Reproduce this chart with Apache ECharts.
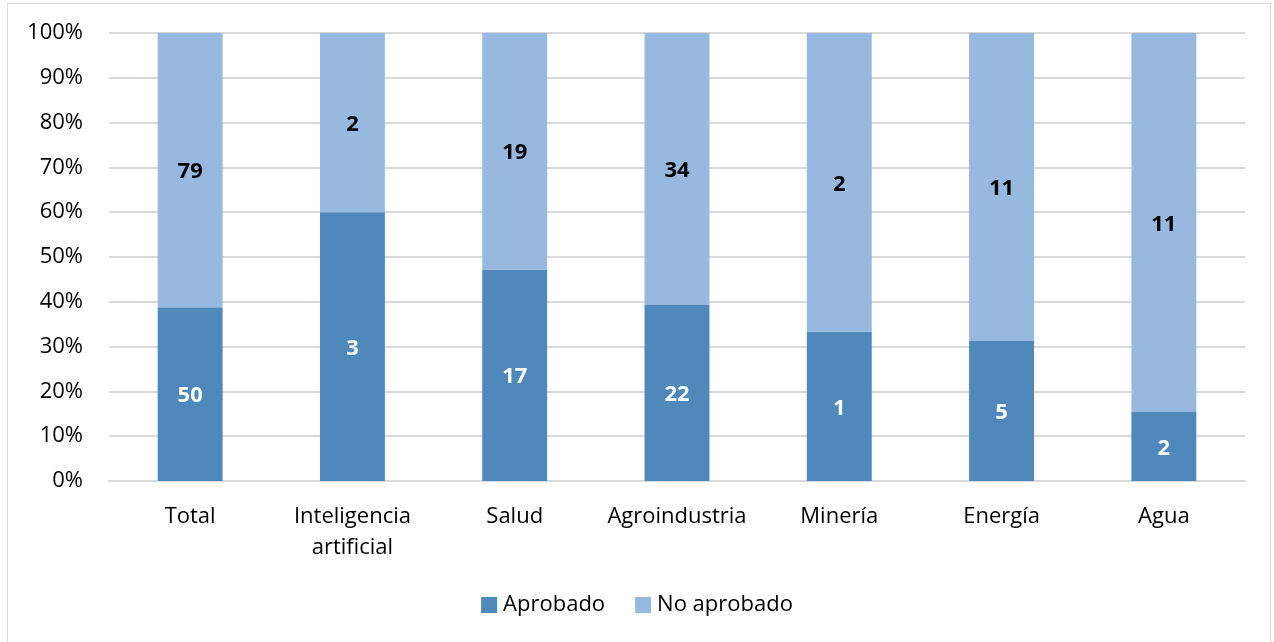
<!DOCTYPE html>
<html>
<head>
<meta charset="utf-8">
<script src="https://cdn.jsdelivr.net/npm/echarts@6/dist/echarts.min.js"></script>
<style>
html, body { margin: 0; padding: 0; background: #fff; }
#chart { width: 1274px; height: 642px; }
#frame { position: absolute; left: 7px; top: 3px; width: 1264px; height: 650px; border: 1px solid #d9d9d9; box-sizing: border-box; }
</style>
</head>
<body>
<div id="frame"></div>
<div id="chart"></div>
<script>
var categories = ["Total", "Inteligencia\nartificial", "Salud", "Agroindustria", "Minería", "Energía", "Agua"];
var aprobado = [50, 3, 17, 22, 1, 5, 2];
var noAprobado = [79, 2, 19, 34, 2, 11, 11];
var yTicks = ["0%", "10%", "20%", "30%", "40%", "50%", "60%", "70%", "80%", "90%", "100%"];

var darkColor = "#4F88BB";
var lightColor = "#97B9E0";
var font = "'Open Sans', sans-serif";
var fs = 22;

// 100% stacked: share of each category total
function share(arr, i) {
    return arr[i] / (aprobado[i] + noAprobado[i]) * 100;
}
var aprobadoPct = [];
var noAprobadoPct = [];
for (var i = 0; i < categories.length; i++) {
    aprobadoPct.push({ value: share(aprobado, i), count: aprobado[i] });
    noAprobadoPct.push({ value: share(noAprobado, i), count: noAprobado[i] });
}

var chart = echarts.init(document.getElementById("chart"));
var option = {
    animation: false,
    backgroundColor: "transparent",
    textStyle: { fontFamily: font },
    grid: { left: 109, right: 29, top: 33, bottom: 161, containLabel: false },
    legend: {
        bottom: 21,
        left: "center",
        itemWidth: 16,
        itemHeight: 16,
        itemGap: 30,
        icon: "rect",
        textStyle: { fontSize: fs, color: "#000", fontFamily: font, padding: [0, 0, 0, 1] },
        data: ["Aprobado", "No aprobado"]
    },
    xAxis: {
        type: "category",
        data: categories,
        axisLine: { lineStyle: { color: "#d9d9d9", width: 2 } },
        axisTick: { show: false },
        axisLabel: { interval: 0, color: "#000", fontSize: fs, margin: 20, lineHeight: 31, fontFamily: font }
    },
    yAxis: {
        type: "value",
        min: 0,
        max: 100,
        interval: 10,
        axisLine: { show: false },
        axisTick: { show: false },
        splitLine: { lineStyle: { color: "#d9d9d9", width: 2 } },
        axisLabel: {
            color: "#000",
            fontSize: fs,
            margin: 26,
            fontFamily: font,
            formatter: function (v) { return yTicks[Math.round(v / 10)]; }
        }
    },
    series: [
        {
            name: "Aprobado",
            type: "bar",
            stack: "total",
            barWidth: "40%",
            data: aprobadoPct,
            itemStyle: { color: darkColor },
            label: {
                show: true,
                position: "inside",
                offset: [0, 2],
                color: "#fff",
                fontWeight: "bold",
                fontSize: fs,
                fontFamily: font,
                formatter: function (p) { return p.data.count; }
            }
        },
        {
            name: "No aprobado",
            type: "bar",
            stack: "total",
            barWidth: "40%",
            data: noAprobadoPct,
            itemStyle: { color: lightColor },
            label: {
                show: true,
                position: "inside",
                offset: [0, 2],
                color: "#000",
                fontWeight: "bold",
                fontSize: fs,
                fontFamily: font,
                formatter: function (p) { return p.data.count; }
            }
        }
    ]
};
chart.setOption(option);
</script>
</body>
</html>
